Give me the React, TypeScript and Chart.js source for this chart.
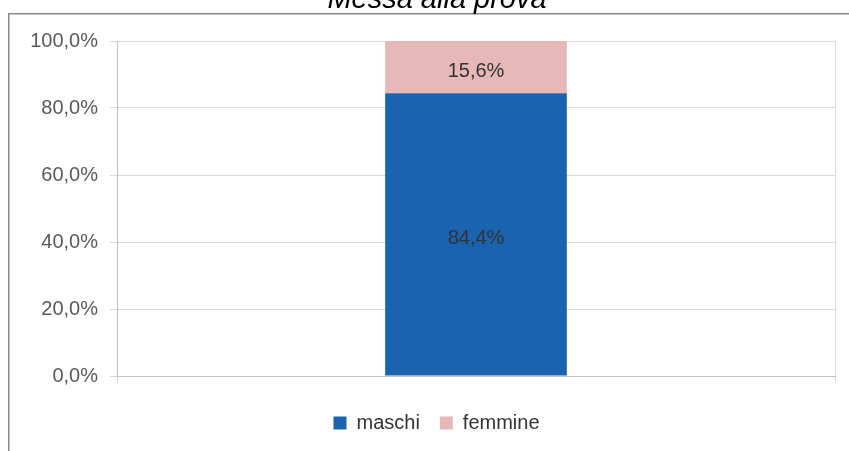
import React, { useEffect, useRef } from "react";
import { Chart, registerables } from "chart.js";

Chart.register(...registerables);

const categories = ["Messa alla prova"];
const maschi = [84.4];
const femmine = [15.6];
const yTicks = [0, 20, 40, 60, 80, 100];
const titleText = "Messa alla prova";

const fmt = (v: number) => v.toFixed(1).replace(".", ",") + "%";

const FONT = "'Liberation Sans', Arial, sans-serif";

const framePlugin = {
  id: "frame",
  beforeDraw(chart: any) {
    const ctx = chart.ctx;
    ctx.save();
    ctx.fillStyle = "#ffffff";
    ctx.fillRect(0, 0, chart.width, chart.height);
    ctx.strokeStyle = "#8a8a8a";
    ctx.lineWidth = 1.5;
    ctx.strokeRect(8.75, 13.75, chart.width + 20, chart.height + 20);
    ctx.font = `italic 29px ${FONT}`;
    ctx.fillStyle = "#000000";
    ctx.textAlign = "center";
    ctx.textBaseline = "alphabetic";
    ctx.fillText(titleText, 437, 8);
    ctx.restore();
  },
  afterLayout(chart: any) {
    const lg = chart.legend;
    if (lg) {
      lg.left += 14;
      lg.right += 14;
    }
  },
};

const valueLabels = {
  id: "valueLabels",
  afterDatasetsDraw(chart: any) {
    const ctx = chart.ctx;
    ctx.save();
    ctx.font = `20px ${FONT}`;
    ctx.fillStyle = "#333333";
    ctx.textAlign = "center";
    ctx.textBaseline = "middle";
    chart.data.datasets.forEach((ds: any, i: number) => {
      const meta = chart.getDatasetMeta(i);
      meta.data.forEach((el: any, j: number) => {
        const v = ds.data[j];
        const yMid = (el.y + el.base) / 2 + 4;
        ctx.fillText(fmt(v), el.x, yMid);
      });
    });
    ctx.restore();
  },
};

export default function App() {
  const ref = useRef<HTMLCanvasElement>(null);
  useEffect(() => {
    if (!ref.current) return;
    const chart = new Chart(ref.current, {
      type: "bar",
      data: {
        labels: categories,
        datasets: [
          {
            label: "maschi",
            data: maschi,
            backgroundColor: "#1a63ae",
            borderWidth: 0,
          },
          {
            label: "femmine",
            data: femmine,
            backgroundColor: "#e6b9b8",
            borderWidth: 0,
          },
        ],
      },
      options: {
        animation: false,
        responsive: false,
        layout: { padding: { left: 10, right: 14, top: 41, bottom: 8 } },
        datasets: { bar: { barPercentage: 0.253, categoryPercentage: 1 } },
        plugins: {
          title: { display: false },
          tooltip: { enabled: false },
          legend: {
            position: "bottom",
            labels: {
              boxWidth: 13,
              boxHeight: 13,
              padding: 20,
              color: "#333333",
              font: { family: FONT, size: 20 },
            },
          },
        },
        scales: {
          x: {
            stacked: true,
            offset: true,
            grid: {
              offset: true,
              color: "#d9d9d9",
              tickLength: 7,
              drawTicks: true,
            },
            border: { color: "#bfbfbf" },
            ticks: { display: false },
            afterFit(scale: any) {
              scale.height = 17;
            },
          },
          y: {
            stacked: true,
            min: 0,
            max: 100,
            afterBuildTicks(scale: any) {
              scale.ticks = yTicks.map((v) => ({ value: v }));
            },
            afterFit(scale: any) {
              scale.width = 107;
            },
            grid: { color: "#d9d9d9", tickLength: 7 },
            border: { color: "#bfbfbf" },
            ticks: {
              padding: 12,
              color: "#595959",
              font: { family: FONT, size: 20 },
              callback: (v: any) => fmt(Number(v)),
            },
          },
        },
      },
      plugins: [framePlugin, valueLabels],
    });
    return () => chart.destroy();
  }, []);
  return (
    <div style={{ position: "absolute", left: 0, top: 0, width: 849, height: 451 }}>
      <canvas ref={ref} width={849} height={451} />
    </div>
  );
}
